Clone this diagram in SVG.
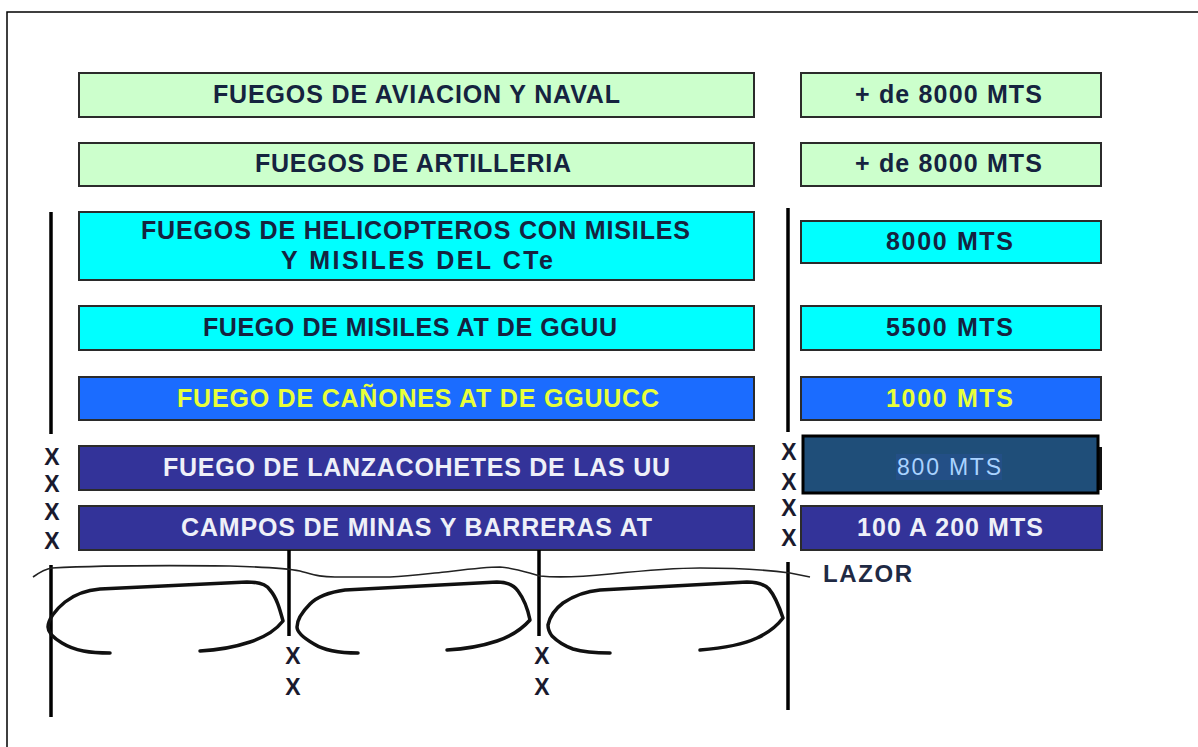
<svg xmlns="http://www.w3.org/2000/svg" width="1198" height="747" viewBox="0 0 1198 747">
<style>
.box{stroke:#2b2b2b;stroke-width:2}
.g{fill:#ccffcc}
.c{fill:#00ffff}
.b{fill:#1b6cff}
.p{fill:#333399}
.t{font-family:"Liberation Sans",Arial,sans-serif;font-weight:bold;font-size:25px;text-anchor:start}
.dk{fill:#15233f}
.yl{fill:#e8ff3a}
.wh{fill:#eef0f8}
.ln{stroke:#000;stroke-width:3.5;fill:none;stroke-linecap:butt}
.cv{stroke:#111;stroke-width:3.5;fill:none;stroke-linecap:round;stroke-linejoin:round}
.x{font-family:"Liberation Sans",Arial,sans-serif;font-weight:bold;font-size:23px;fill:#1a1a2e;text-anchor:middle}
</style>
<rect x="7" y="12" width="1210" height="760" fill="none" stroke="#000" stroke-width="1.5"/>

<g id="n1"><rect class="box g" x="79" y="73" width="675" height="44"/><text class="t dk" x="213" y="103" textLength="407">FUEGOS DE AVIACION Y NAVAL</text></g>
<g id="n2"><rect class="box g" x="79" y="143" width="675" height="43"/><text class="t dk" x="255" y="172" textLength="316">FUEGOS DE ARTILLERIA</text></g>
<g id="n3"><rect class="box c" x="79" y="212" width="675" height="68"/><text class="t dk" x="141" y="239" textLength="549">FUEGOS DE HELICOPTEROS CON MISILES</text><text class="t dk" x="281" y="269" textLength="272">Y MISILES DEL CTe</text></g>
<g id="n4"><rect class="box c" x="79" y="306" width="675" height="44"/><text class="t dk" x="203" y="336" textLength="414">FUEGO DE MISILES AT DE GGUU</text></g>
<g id="n5"><rect class="box b" x="79" y="377" width="675" height="43"/><text class="t yl" x="177" y="407" textLength="482">FUEGO DE CAÑONES AT DE GGUUCC</text></g>
<g id="n6"><rect class="box p" x="79" y="446" width="675" height="44"/><text class="t wh" x="163" y="476" textLength="507">FUEGO DE LANZACOHETES DE LAS UU</text></g>
<g id="n7"><rect class="box p" x="79" y="506" width="675" height="44"/><text class="t wh" x="181" y="536" textLength="471">CAMPOS DE MINAS Y BARRERAS AT</text></g>

<g id="r1"><rect class="box g" x="801" y="73" width="300" height="44"/><text class="t dk" x="855" y="103" textLength="187">+ de 8000 MTS</text></g>
<g id="r2"><rect class="box g" x="801" y="143" width="300" height="43"/><text class="t dk" x="855" y="172" textLength="187">+ de 8000 MTS</text></g>
<g id="r3"><rect class="box c" x="801" y="221" width="300" height="42"/><text class="t dk" x="886" y="250" textLength="127">8000 MTS</text></g>
<g id="r4"><rect class="box c" x="801" y="306" width="300" height="44"/><text class="t dk" x="886" y="336" textLength="127">5500 MTS</text></g>
<g id="r5"><rect class="box b" x="801" y="377" width="300" height="43"/><text class="t yl" x="886" y="407" textLength="127">1000 MTS</text></g>
<g id="r6"><rect x="1097" y="447" width="5" height="43" fill="#111"/><rect x="803" y="436" width="295" height="57" fill="#1f4e79" stroke="#000" stroke-width="3"/><rect x="896" y="454" width="106" height="26" fill="#234f86"/><text x="897" y="475" font-family="'Liberation Sans',Arial,sans-serif" font-size="23" fill="#a9d2ff" textLength="104">800 MTS</text></g>
<g id="r7"><rect class="box p" x="801" y="506" width="301" height="44"/><text class="t wh" x="857" y="536" textLength="186">100 A 200 MTS</text></g>

<g id="connectors">
<line class="ln" x1="51" y1="212" x2="51" y2="434"/>
<line class="ln" x1="788" y1="208" x2="788" y2="432"/>
<line class="ln" x1="51" y1="565" x2="51" y2="717"/>
<line class="ln" x1="289" y1="550" x2="289" y2="636"/>
<line class="ln" x1="539" y1="550" x2="539" y2="636"/>
<line class="ln" x1="788" y1="562" x2="788" y2="710"/>
<path d="M33 577 C40 572 45 569 52 568 C90 566 140 565 230 566 C265 567 285 568 300 571 C315 575 320 577 335 577 L390 577 C410 576 425 574 445 572 C470 569 485 567 500 567 C515 568 525 572 540 576 C560 578 580 577 610 574 C640 571 670 568 700 568 C730 568 760 569 790 573 L810 577" fill="none" stroke="#222" stroke-width="1.6"/>
<path class="cv" d="M110 653 C90 653 75 651 62 643 C52 637 48 632 48 627 C48 620 55 610 65 602 C75 594 88 590 100 589 L247 582 C258 582 266 584 270 590 C277 598 280 610 283 621 C276 630 265 637 250 642 C235 647 220 650 200 651"/>
<path class="cv" d="M358 653 C340 653 325 651 314 644 C302 637 297 632 297 627 C297 620 302 612 310 604 C318 596 330 592 345 590 L497 582 C507 582 514 585 518 591 C524 599 528 610 530 620 C522 629 512 636 497 641 C482 646 465 649 447 650"/>
<path class="cv" d="M610 653 C595 653 583 652 573 649 C562 645 556 640 552 636 C549 632 548 629 548 625 C550 616 555 609 563 603 C575 595 588 591 600 590 L747 582 C757 582 764 584 769 589 C775 596 779 606 783 618 C777 626 770 632 757 638 C742 645 725 648 700 650"/>
</g>

<g id="marks">
<text class="x" x="52" y="465">X</text>
<text class="x" x="52" y="492">X</text>
<text class="x" x="52" y="520">X</text>
<text class="x" x="52" y="549">X</text>
<text class="x" x="789" y="460">X</text>
<text class="x" x="789" y="490">X</text>
<text class="x" x="789" y="516">X</text>
<text class="x" x="789" y="546">X</text>
<text class="x" x="293" y="664">X</text>
<text class="x" x="293" y="695">X</text>
<text class="x" x="542" y="664">X</text>
<text class="x" x="542" y="695">X</text>
</g>
<g id="lazor"><text x="823" y="582" font-family="'Liberation Sans',Arial,sans-serif" font-weight="bold" font-size="24" fill="#1f2a44" textLength="89">LAZOR</text></g>
</svg>
